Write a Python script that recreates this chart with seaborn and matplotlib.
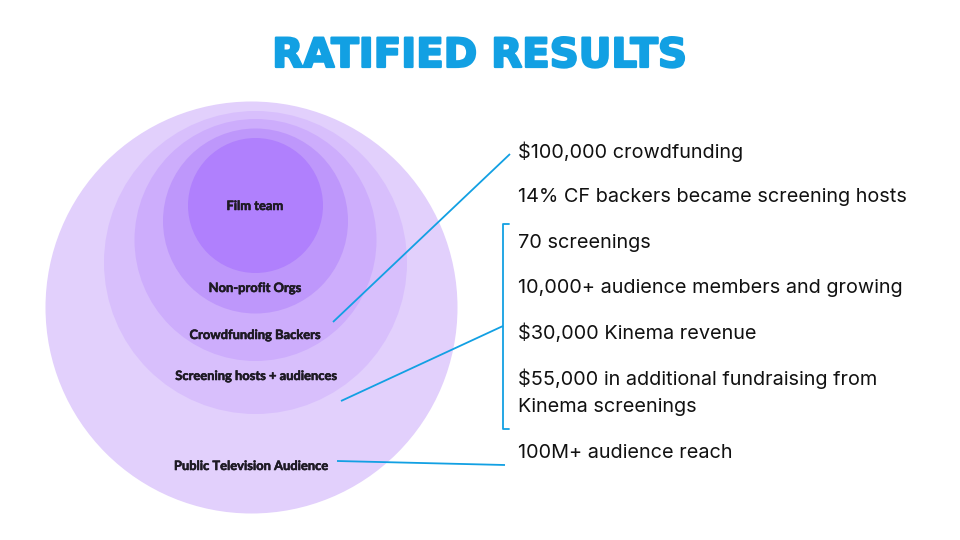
import matplotlib
matplotlib.use("Agg")
import matplotlib.pyplot as plt
from matplotlib.patches import Circle
import matplotlib.patheffects as pe
import seaborn as sns

# ---- data ----
title = "RATIFIED RESULTS"
ring_labels = ["Public Television Audience", "Screening hosts + audiences",
               "Crowdfunding Backers", "Non-profit Orgs", "Film team"]
result_lines = ["$100,000 crowdfunding",
                "14% CF backers became screening hosts",
                "70 screenings",
                "10,000+ audience members and growing",
                "$30,000 Kinema revenue",
                "$55,000 in additional fundraising from",
                "Kinema screenings",
                "100M+ audience reach"]

# ---- layout / style ----
ring_geom = [(251.5, 307.5, 206), (255.5, 262.5, 151.5), (255.5, 240, 121),
             (255.5, 221, 92.5), (255.5, 205.5, 67.5)]
ring_colors = ["#E2D0FC", "#D8BFFC", "#CDADFC", "#BE97FB", "#B080FD"]
ring_label_y = [466, 376, 335, 288, 206]
ring_label_x = [251, 256, 255, 255, 255]
result_y = [152, 197, 243, 288, 333, 379, 407, 453]
blue = "#12A0E3"

sns.set_theme(style="white")
plt.rcParams['font.family'] = ['Inter', 'DejaVu Sans']

fig = plt.figure(figsize=(9.6, 5.4), dpi=100)
ax = fig.add_axes([0, 0, 1, 1])
ax.set_xlim(0, 960)
ax.set_ylim(540, 0)
ax.set_aspect('equal')
ax.axis('off')

for (cx, cy, r), col in zip(ring_geom, ring_colors):
    ax.add_patch(Circle((cx, cy), r, facecolor=col, edgecolor='none'))

for lab, x, y in zip(ring_labels, ring_label_x, ring_label_y):
    ax.text(x, y, lab, ha='center', va='center', fontsize=9.3,
            fontweight='bold', family=['Lato', 'DejaVu Sans'], color='#1E1A24',
            path_effects=[pe.withStroke(linewidth=0.4, foreground='#1E1A24')])

ax.text(480, 56, title, ha='center', va='center', fontsize=29,
        fontweight='bold', family=['DejaVu Sans'], color=blue,
        path_effects=[pe.withStroke(linewidth=1.6, foreground=blue)])

for txt, y in zip(result_lines, result_y):
    ax.text(518, y, txt, ha='left', va='center', fontsize=14.3, color='#111111')

# connectors
ax.plot([333, 510], [322, 154], color=blue, lw=1.3, solid_capstyle='butt')
ax.plot([341, 503], [401, 326], color=blue, lw=1.3, solid_capstyle='butt')
ax.plot([337, 505], [461, 465], color=blue, lw=1.3, solid_capstyle='butt')
# bracket
ax.plot([509, 503, 503, 509], [224, 224, 429, 429], color=blue, lw=1.3)

fig.savefig("out.png", dpi=100)
